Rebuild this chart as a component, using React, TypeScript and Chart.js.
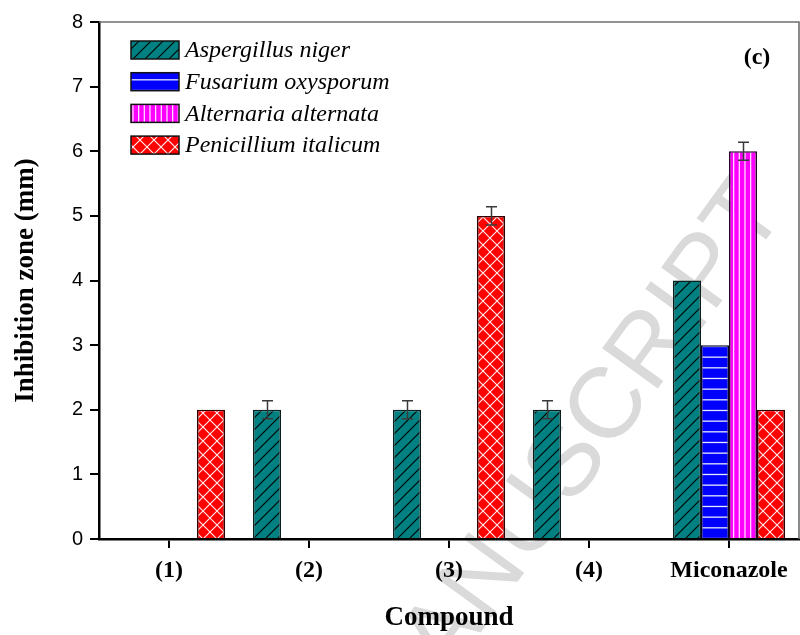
import React, { useEffect, useRef } from 'react';
import { Chart, registerables } from 'chart.js';

Chart.register(...registerables);

// Compounds tested and the inhibition zones (mm) for each fungus
const compounds = ['(1)', '(2)', '(3)', '(4)', 'Miconazole'];
const seriesNames = ['Aspergillus niger', 'Fusarium oxysporum', 'Alternaria alternata', 'Penicillium italicum'];

const aspergillusNiger = [0, 2, 2, 2, 4];
const aspergillusNigerErr = [0, 0.14, 0.14, 0.14, 0];
const fusariumOxysporum = [0, 0, 0, 0, 3];
const fusariumOxysporumErr = [0, 0, 0, 0, 0];
const alternariaAlternata = [0, 0, 0, 0, 6];
const alternariaAlternataErr = [0, 0, 0, 0, 0.14];
const penicilliumItalicum = [2, 0, 5, 0, 2];
const penicilliumItalicumErr = [0, 0, 0.14, 0, 0];

const yMin = 0;
const yMax = 8;
const yStep = 1;

const panelLabel = '(c)';
const watermarkText = 'ACCEPTED MANUSCRIPT';

const SERIF = "'Liberation Serif', 'Times New Roman', serif";
const SANS = "'Liberation Sans', Arial, sans-serif";

type TileDraw = (g: CanvasRenderingContext2D, w: number, h: number) => void;

function makePattern(ctx: CanvasRenderingContext2D, w: number, h: number, draw: TileDraw): CanvasPattern {
  const c = document.createElement('canvas');
  c.width = w;
  c.height = h;
  const g = c.getContext('2d') as CanvasRenderingContext2D;
  draw(g, w, h);
  return ctx.createPattern(c, 'repeat') as CanvasPattern;
}

export default function App() {
  const canvasRef = useRef<HTMLCanvasElement | null>(null);

  useEffect(() => {
    const canvas = canvasRef.current;
    if (!canvas) return;
    const ctx = canvas.getContext('2d') as CanvasRenderingContext2D;

    // Fill patterns for each fungus
    const tealHatch = makePattern(ctx, 12, 12, (g, w, h) => {
      g.fillStyle = '#008080';
      g.fillRect(0, 0, w, h);
      g.strokeStyle = '#000000';
      g.lineWidth = 1.1;
      g.beginPath();
      g.moveTo(-2, h + 2);
      g.lineTo(w + 2, -2);
      g.moveTo(-2, 2);
      g.lineTo(2, -2);
      g.moveTo(w - 2, h + 2);
      g.lineTo(w + 2, h - 2);
      g.stroke();
    });
    const blueLines = makePattern(ctx, 8, 32, (g, w, h) => {
      g.fillStyle = '#0000ff';
      g.fillRect(0, 0, w, h);
      g.fillStyle = 'rgba(255,255,255,0.9)';
      [4.5, 15.17, 25.83].forEach((y) => g.fillRect(0, y, w, 1.3));
    });
    const magentaLines = makePattern(ctx, 17, 8, (g, w, h) => {
      g.fillStyle = '#ff00ff';
      g.fillRect(0, 0, w, h);
      g.fillStyle = 'rgba(255,255,255,0.85)';
      [2, 7.67, 13.33].forEach((x) => g.fillRect(x, 0, 1.3, h));
    });
    const redCross = makePattern(ctx, 14, 14, (g, w, h) => {
      g.fillStyle = '#ff0000';
      g.fillRect(0, 0, w, h);
      g.strokeStyle = 'rgba(255,255,255,0.95)';
      g.lineWidth = 1.1;
      g.beginPath();
      g.moveTo(-1, -1);
      g.lineTo(w + 1, h + 1);
      g.moveTo(-1, h + 1);
      g.lineTo(w + 1, -1);
      g.stroke();
    });

    const values = [aspergillusNiger, fusariumOxysporum, alternariaAlternata, penicilliumItalicum];
    const errors = [aspergillusNigerErr, fusariumOxysporumErr, alternariaAlternataErr, penicilliumItalicumErr];
    const fills = [tealHatch, blueLines, magentaLines, redCross];
    const borders = ['#082020', '#00002a', '#280028', '#300000'];

    const datasets = seriesNames.map((name, i) => ({
      label: name,
      data: values[i],
      backgroundColor: fills[i],
      borderColor: borders[i],
      borderWidth: (c: any) => (c.raw ? 1.6 : 0),
      borderSkipped: 'start' as const,
      categoryPercentage: 0.8,
      barPercentage: 1.0,
    }));

    // Faint diagonal watermark behind everything
    const watermarkPlugin = {
      id: 'watermark',
      beforeDraw(chart: any) {
        const c = chart.ctx;
        c.save();
        c.translate(787, 211);
        c.rotate((-54 * Math.PI) / 180);
        c.font = `100px ${SANS}`;
        c.fillStyle = 'rgb(218,218,218)';
        c.textAlign = 'right';
        c.textBaseline = 'alphabetic';
        c.fillText(watermarkText, 0, 0);
        c.restore();
      },
    };

    // Error bars, frame, legend and panel label
    const overlayPlugin = {
      id: 'overlay',
      afterDatasetsDraw(chart: any) {
        const c = chart.ctx;
        const yScale = chart.scales.y;
        c.save();
        c.strokeStyle = '#3a3a3a';
        c.lineWidth = 1.5;
        errors.forEach((errs, di) => {
          const meta = chart.getDatasetMeta(di);
          meta.data.forEach((el: any, j: number) => {
            const e = errs[j];
            if (!e) return;
            const v = values[di][j];
            const top = yScale.getPixelForValue(v + e);
            const bot = yScale.getPixelForValue(v - e);
            const x = Math.round(el.x) + 0.5;
            c.beginPath();
            c.moveTo(x, top);
            c.lineTo(x, bot);
            c.moveTo(x - 5.5, top);
            c.lineTo(x + 5.5, top);
            c.moveTo(x - 5.5, bot);
            c.lineTo(x + 5.5, bot);
            c.stroke();
          });
        });
        c.restore();
      },
      afterDraw(chart: any) {
        const c = chart.ctx;
        const area = chart.chartArea;
        c.save();
        // top and right frame
        c.strokeStyle = '#6e6e6e';
        c.lineWidth = 1.6;
        c.beginPath();
        c.moveTo(area.left, area.top);
        c.lineTo(area.right, area.top);
        c.lineTo(area.right, area.bottom);
        c.stroke();

        // legend
        const boxX = 131;
        const boxW = 48;
        const boxH = 18;
        const rowTop = 41;
        const rowGap = 31.7;
        chart.data.datasets.forEach((ds: any, i: number) => {
          const y = rowTop + i * rowGap;
          c.fillStyle = ds.backgroundColor;
          c.fillRect(boxX, y, boxW, boxH);
          c.strokeStyle = '#111111';
          c.lineWidth = 1.5;
          c.strokeRect(boxX, y, boxW, boxH);
          c.fillStyle = '#000000';
          c.font = `italic 24px ${SERIF}`;
          c.textAlign = 'left';
          c.textBaseline = 'middle';
          c.fillText(ds.label, boxX + boxW + 6, y + boxH / 2 + 1);
        });

        // panel label
        c.font = `bold 24px ${SERIF}`;
        c.textAlign = 'center';
        c.textBaseline = 'middle';
        c.fillStyle = '#000000';
        c.fillText(panelLabel, 757, 58);
        c.restore();
      },
    };

    const chart = new Chart(canvas, {
      type: 'bar',
      data: { labels: compounds, datasets },
      options: {
        animation: false,
        responsive: false,
        maintainAspectRatio: false,
        layout: { padding: { left: 0, top: 22, right: 1, bottom: 0 } },
        plugins: {
          legend: { display: false },
          tooltip: { enabled: false },
        },
        scales: {
          x: {
            z: 1,
            grid: {
              display: true,
              drawOnChartArea: false,
              drawTicks: true,
              tickLength: 9,
              offset: false,
              color: '#000000',
              lineWidth: 2,
            },
            border: { display: true, color: '#000000', width: 2.5 },
            ticks: {
              color: '#000000',
              font: { family: SERIF, size: 24, weight: 'bold' },
              padding: 8,
              maxRotation: 0,
              autoSkip: false,
            },
            title: {
              display: true,
              text: 'Compound',
              color: '#000000',
              font: { family: SERIF, size: 27, weight: 'bold' },
              padding: { top: 0, bottom: 1 },
            },
            afterFit(scale: any) {
              scale.height = 96;
            },
          },
          y: {
            z: 1,
            min: yMin,
            max: yMax,
            grid: {
              display: true,
              drawOnChartArea: false,
              drawTicks: true,
              tickLength: 9,
              color: '#000000',
              lineWidth: 2,
            },
            border: { display: true, color: '#000000', width: 2.5 },
            ticks: {
              stepSize: yStep,
              color: '#000000',
              font: { family: SANS, size: 20 },
              padding: 7,
            },
            title: {
              display: true,
              text: 'Inhibition zone (mm)',
              color: '#000000',
              font: { family: SERIF, size: 27, weight: 'bold' },
              padding: { top: 10, bottom: 0 },
            },
            afterFit(scale: any) {
              scale.width = 99;
            },
          },
        },
      },
      plugins: [watermarkPlugin, overlayPlugin],
    });

    return () => {
      chart.destroy();
    };
  }, []);

  return (
    <div style={{ position: 'fixed', left: 0, top: 0, width: 800, height: 635, background: '#ffffff' }}>
      <canvas ref={canvasRef} width={800} height={635} style={{ width: 800, height: 635, display: 'block' }} />
    </div>
  );
}
